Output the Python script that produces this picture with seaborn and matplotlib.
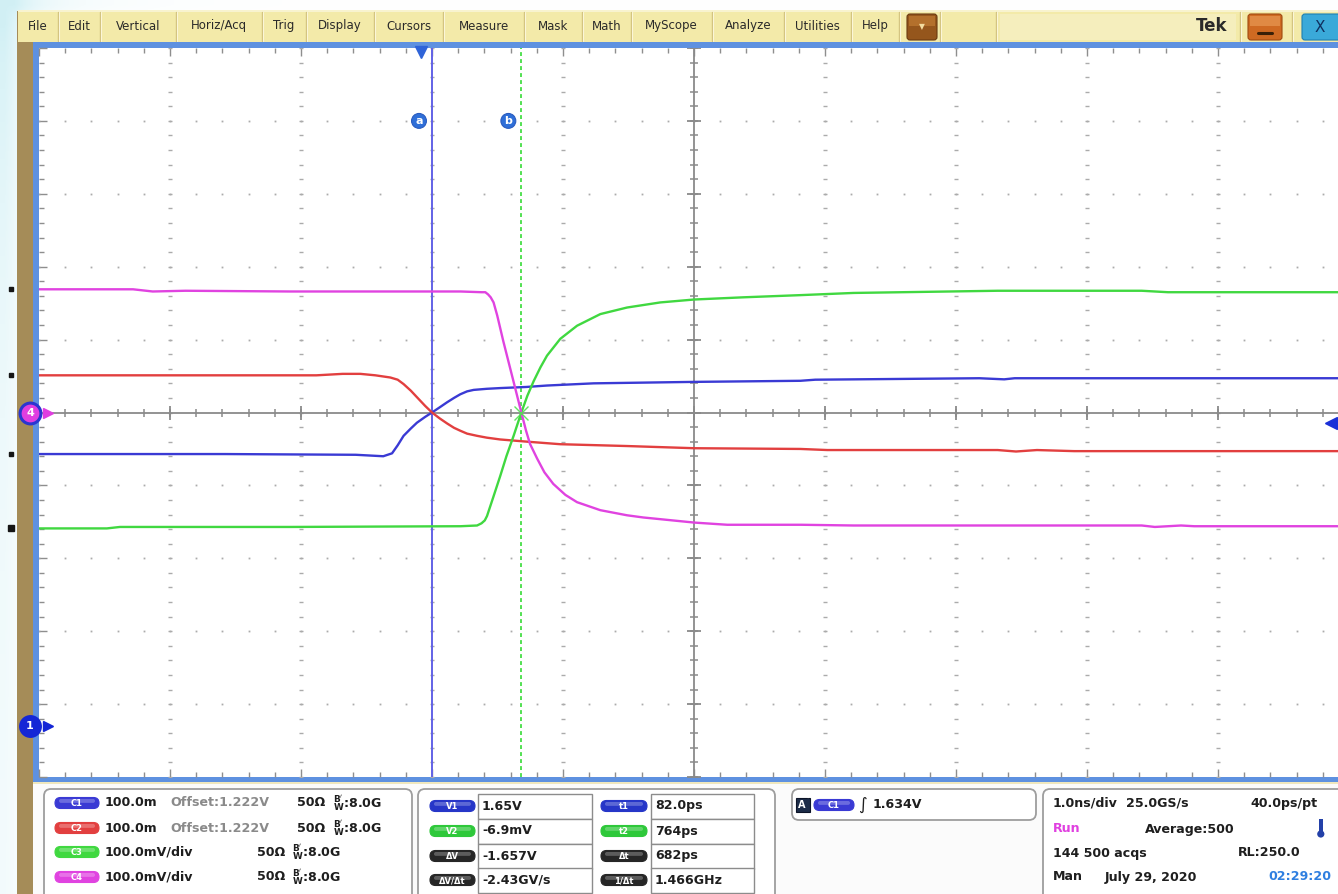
import numpy as np
import pandas as pd
import matplotlib
matplotlib.use("Agg")
import matplotlib.pyplot as plt
from matplotlib.patches import FancyBboxPatch, Rectangle, Circle
from matplotlib.ticker import FixedLocator
import seaborn as sns

# ---------------- waveform data (time in ps, screen level in mV, 100 mV/div) -------------
c1_t = [-2918, -1500, -500, -290, -223, -180, -135, -80, -33, 30, 82, 140, 197, 250, 298,
        350, 400, 500, 603, 800, 960, 1316, 1700, 2084, 2894, 3008, 4260, 4450, 4530, 7082]
c1_mv = [-57, -57, -58, -60, -56, -45, -32, -22, -14, -6, 0, 7, 14, 20, 25,
         29, 31, 32.5, 33.5, 35, 37, 40, 41, 42, 43.5, 45, 47, 45.5, 47, 47]

c2_t = [-2918, -2000, -800, -600, -465, -350, -236, -180, -135, -80, -33, 30, 82, 140, 197,
        250, 298, 350, 426, 500, 603, 807, 1061, 1571, 2084, 2894, 3100, 4400, 4540, 4700,
        4985, 7082]
c2_mv = [51, 51, 51, 53, 53, 51, 48, 45, 39, 30, 21, 9, 0, -8, -15,
         -21, -25, -29, -32, -34.5, -37, -40, -43.5, -46, -49, -50, -51.5, -51.5, -53.5, -51.5,
         -53, -53]

c3_t = [-2918, -2400, -2300, -1000, 300, 426, 460, 485, 502, 550, 603, 650, 705, 764, 810,
        858, 910, 960, 1061, 1189, 1367, 1571, 1825, 2084, 2458, 2894, 3300, 4400, 5500,
        5700, 7082]
c3_mv = [-159, -159, -157, -157, -156, -155, -152, -148, -142, -116, -87, -60, -32, 0, 23,
         43, 62, 78, 101, 119, 135, 144, 151, 155, 158, 161, 164, 167, 167,
         165, 165]

c4_t = [-2918, -2200, -2150, -2050, -1800, -1000, 300, 460, 489, 510, 530, 552, 580, 626,
        705, 764, 800, 830, 884, 940, 1008, 1100, 1189, 1367, 1571, 1695, 2084, 2336, 2900,
        3300, 5500, 5600, 5800, 5900, 7082]
c4_mv = [169, 169, 168, 166, 167, 166, 166, 165, 165, 162, 158, 151, 133, 98,
         42, 0, -25, -43, -63, -82, -98, -113, -123, -134, -141, -144, -151, -154, -154,
         -155, -155, -157, -155, -156, -156]

T1, T2 = 82, 764            # cursor a / cursor b (ps)
PS_PER_DIV = 1000           # 1.0 ns/div
MV_PER_DIV = 100            # 100 mV/div
TRIG_T = 0                  # trigger position
C4_REF = 0                  # channel 4 reference marker (mV)
C1_REF = -430               # channel 1 reference marker (mV)
TRIG_LEVEL = -15            # trigger level arrow (mV)

channel_colors = {"C1": "#3a3ad4", "C2": "#e23f3f", "C3": "#40d840", "C4": "#e043e0"}

menu_items = ["File", "Edit", "Vertical", "Horiz/Acq", "Trig", "Display", "Cursors",
              "Measure", "Mask", "Math", "MyScope", "Analyze", "Utilities", "Help"]
menu_sep = [18, 58, 100, 176, 262, 306, 374, 443, 524, 582, 631, 712, 784, 851, 899]

ch_names = ["C1", "C2", "C3", "C4"]
ch_scale = ["100.0m", "100.0m", "100.0mV/div", "100.0mV/div"]
ch_offset = ["Offset:1.222V", "Offset:1.222V", "", ""]
ch_term = "50\u03a9"
ch_bw = "8.0G"

cur_v_names = ["V1", "V2", "\u0394V", "\u0394V/\u0394t"]
cur_v_vals = ["1.65V", "-6.9mV", "-1.657V", "-2.43GV/s"]
cur_t_names = ["t1", "t2", "\u0394t", "1/\u0394t"]
cur_t_vals = ["82.0ps", "764ps", "682ps", "1.466GHz"]
cur_colors = ["#2636c8", "#2ec83a", "#262626", "#262626"]

trig_source = "C1"
trig_level_txt = "1.634V"

horiz_rows = [["1.0ns/div", "25.0GS/s", "40.0ps/pt"],
              ["Run", "Average:500", ""],
              ["144 500 acqs", "", "RL:250.0"],
              ["Man", "July 29, 2020", "02:29:20"]]

# ---------------------------------------------------------------------------------
W, H = 1338, 894
sns.set_theme(style="white")
plt.rcParams["font.family"] = ["DejaVu Sans"]
plt.rcParams["mathtext.fontset"] = "dejavusans"

fig = plt.figure(figsize=(W / 100, H / 100), dpi=100, facecolor="white")

# background layer in pixel coordinates
bg = fig.add_axes([0, 0, 1, 1], zorder=0)
bg.set_xlim(0, W)
bg.set_ylim(H, 0)
bg.axis("off")

# pale cyan wash at the top-left of the window
gy, gx = np.mgrid[0:90, 0:134]
wash = np.exp(-gx / 2.5) * (0.25 + 0.75 * np.exp(-gy / 25.0)) + 0.35 * np.exp(-gy / 1.2) * np.exp(-gx / 10.0)
wash = np.clip(wash, 0, 1)
img = np.ones((90, 134, 3))
cyan = np.array([0.82, 0.94, 0.96])
img = img * (1 - wash[..., None]) + cyan * wash[..., None]
bg.imshow(img, extent=(0, W, H, 0), aspect="auto", interpolation="bilinear", zorder=0)

# khaki side strip and bottom panel
bg.add_patch(Rectangle((17, 11), 18, H - 11, fc="#a58c58", ec="none", zorder=1))
bg.add_patch(Rectangle((33, 782), W - 33, H - 782, fc="#fbfbfb", ec="none", zorder=1))

# menu bar
bg.add_patch(Rectangle((18, 10), W - 18, 32, fc="#f3eaa9", ec="none", zorder=2))
bg.add_patch(Rectangle((18, 10), W - 18, 2, fc="#f8f3cf", ec="none", zorder=2))
for sx in menu_sep[1:] + [940, 996, 1240, 1292]:
    bg.plot([sx, sx], [12, 41], color="#d2c27c", lw=1.0, zorder=3)
    bg.plot([sx + 1, sx + 1], [12, 41], color="#fbf6d8", lw=0.8, zorder=3)
for i, lbl in enumerate(menu_items):
    xm = 0.5 * (menu_sep[i] + menu_sep[i + 1])
    bg.text(xm, 26, lbl, ha="center", va="center", fontsize=8.5, color="#2a2a2a", zorder=4)
bg.add_patch(FancyBboxPatch((907, 14), 30, 26, boxstyle="round,pad=0,rounding_size=3",
                            fc="#95561c", ec="#6a3a10", lw=0.8, zorder=4))
bg.add_patch(Rectangle((909, 16), 26, 10, fc="#b3702c", ec="none", zorder=4))
bg.text(922, 27, "\u25bc", ha="center", va="center", fontsize=5.5, color="#f3dca0", zorder=5)
bg.add_patch(Rectangle((1000, 14), 236, 26, fc="#f5eebd", ec="none", zorder=2.5))
bg.text(1227, 26, "Tek", ha="right", va="center", fontsize=12, fontweight="bold",
        color="#2a2a2a", zorder=4)
bg.add_patch(FancyBboxPatch((1248, 14), 34, 26, boxstyle="round,pad=0,rounding_size=3",
                            fc="#cf6a22", ec="#a04a10", lw=0.8, zorder=4))
bg.add_patch(Rectangle((1250, 16), 30, 10, fc="#e08a44", ec="none", zorder=4))
bg.plot([1258, 1272], [33, 33], color="#3a2008", lw=2.2, zorder=5)
bg.add_patch(FancyBboxPatch((1302, 14), 40, 26, boxstyle="round,pad=0,rounding_size=3",
                            fc="#3aa9d9", ec="#1f7fb0", lw=0.8, zorder=4))
bg.text(1320, 27, "X", ha="center", va="center", fontsize=11, color="#103060", zorder=5)

# blue graticule frame
frame_c = "#5e91e0"
bg.add_patch(Rectangle((33, 42), 6, 740, fc=frame_c, ec="none", zorder=3))
bg.add_patch(Rectangle((33, 42), W - 33, 6, fc=frame_c, ec="none", zorder=3))
bg.add_patch(Rectangle((33, 777), W - 33, 5, fc=frame_c, ec="none", zorder=3))
bg.add_patch(Rectangle((33, 782), W - 33, 2, fc="#efe7bd", ec="none", zorder=3))


def pill(x0, yc, w, h, color, text, fs=6.0):
    bg.add_patch(FancyBboxPatch((x0, yc - h / 2), w, h,
                                boxstyle="round,pad=0,rounding_size=%g" % (h / 2),
                                fc=color, ec=color, lw=0.8, zorder=5))
    bg.add_patch(FancyBboxPatch((x0 + 4, yc - h / 2 + 1.5), w - 8, h * 0.35,
                                boxstyle="round,pad=0,rounding_size=%g" % (h * 0.17),
                                fc="white", ec="none", alpha=0.25, zorder=5.5))
    bg.text(x0 + w / 2, yc + 0.5, text, ha="center", va="center", fontsize=fs,
            color="white", fontweight="bold", zorder=6)


def panel(x0, y0, x1, y1):
    bg.add_patch(FancyBboxPatch((x0, y0), x1 - x0, y1 - y0, boxstyle="round,pad=0,rounding_size=7",
                                fc="white", ec="#9d9d9d", lw=1.3, zorder=4))


TXT = dict(fontsize=9.1, fontweight="bold", color="#1e1e1e", va="center", zorder=6)
BW = r"$\mathbf{{}^{B'}_{W}}$" + ":" + ch_bw

# channel panel
panel(44, 789, 412, 905)
rows1 = [803, 828, 852, 877]
for i, y in enumerate(rows1):
    pill(55, y, 44, 11, channel_colors[ch_names[i]], ch_names[i])
    bg.text(105, y, ch_scale[i], **TXT)
    if ch_offset[i]:
        bg.text(170, y, ch_offset[i], **{**TXT, "color": "#8a8a8a"})
        bg.text(297, y, ch_term, **TXT)
        bg.text(333, y, BW, **TXT)
    else:
        bg.text(257, y, ch_term, **TXT)
        bg.text(292, y, BW, **TXT)

# cursor readout panel
panel(418, 789, 775, 905)
rows2 = [806, 831, 856, 880]
for i, y in enumerate(rows2):
    pill(430, y, 45, 11, cur_colors[i], cur_v_names[i])
    bg.add_patch(Rectangle((478, y - 12.5), 114, 25, fc="white", ec="#8c8c8c", lw=1.0, zorder=5))
    bg.text(482, y, cur_v_vals[i], **TXT)
    pill(601, y, 46, 11, cur_colors[i], cur_t_names[i])
    bg.add_patch(Rectangle((651, y - 12.5), 103, 25, fc="white", ec="#8c8c8c", lw=1.0, zorder=5))
    bg.text(655, y, cur_t_vals[i], **TXT)

# trigger panel
panel(792, 789, 1036, 820)
bg.add_patch(Rectangle((796, 798), 14, 14, fc="#1c2c48", ec="#0c1428", lw=0.8, zorder=5))
bg.text(802, 805.5, "A", ha="center", va="center", fontsize=7, color="white",
        fontweight="bold", zorder=6)
bg.text(807.5, 800.5, "'", ha="center", va="center", fontsize=6, color="white", zorder=6)
pill(814, 805, 40, 11, channel_colors["C1"], trig_source)
bg.text(858, 805, "\u222b", ha="left", va="center", fontsize=12, color="#1e1e1e", zorder=6)
bg.text(873, 804, trig_level_txt, **TXT)

# horizontal / acquisition panel
panel(1043, 789, 1360, 905)
rows4 = [803, 829, 853, 877]
mid_x = [1126, 1145, None, 1105]
right_x = [1250, None, 1238, 1268]
for i, y in enumerate(rows4):
    a, b, c = horiz_rows[i]
    bg.text(1053, y, a, **{**TXT, "color": "#e040e0" if a == "Run" else "#1e1e1e"})
    if b:
        bg.text(mid_x[i], y, b, **TXT)
    if c:
        bg.text(right_x[i], y, c, **{**TXT, "color": "#2f7fe0" if i == 3 else "#1e1e1e"})
bg.add_patch(Rectangle((1319, 819), 3.5, 14, fc="#2340a8", ec="none", zorder=6))
bg.add_patch(Circle((1320.8, 834), 3.6, fc="#2340a8", ec="none", zorder=6))

# ---------------------------------------------------------------- graticule axes
ax = fig.add_axes([39 / W, 1 - 777 / H, 1310 / W, 729 / H], zorder=1)
x0 = T1 - 3 * PS_PER_DIV
ax.set_xlim(x0, x0 + 10 * PS_PER_DIV)
ax.set_ylim(-5 * MV_PER_DIV, 5 * MV_PER_DIV)
ax.set_facecolor("white")
for s in ax.spines.values():
    s.set_visible(False)

xmaj = [x0 + k * PS_PER_DIV for k in range(11)]
xmin = [x0 + k * PS_PER_DIV / 5 for k in range(51)]
ymaj = [-500 + k * MV_PER_DIV for k in range(11)]
ymin = [-500 + k * MV_PER_DIV / 5 for k in range(51)]
ax.xaxis.set_major_locator(FixedLocator(xmaj))
ax.xaxis.set_minor_locator(FixedLocator(xmin))
ax.yaxis.set_major_locator(FixedLocator(ymaj))
ax.yaxis.set_minor_locator(FixedLocator(ymin))
ax.tick_params(which="both", direction="in", top=True, right=True, bottom=True, left=True,
               labelbottom=False, labelleft=False, color="#8e8e8e", width=1.0)
ax.tick_params(which="major", length=6)
ax.tick_params(which="minor", length=3.5)

xc = x0 + 5 * PS_PER_DIV
dot = "#ababab"
for xm in xmaj[1:-1]:
    if xm == xc:
        continue
    ax.plot([xm] * len(ymin), ymin, ls="none", marker="_", ms=3.5, mew=1.0, color=dot, zorder=1)
for ym in ymaj[1:-1]:
    if ym == 0:
        continue
    ax.plot(xmin, [ym] * len(xmin), ls="none", marker="s", ms=1.3, mew=0, color=dot, zorder=1)

# centre cross with division ticks
ax.axhline(0, color="#8a8a8a", lw=1.3, zorder=1.5)
ax.axvline(xc, color="#8a8a8a", lw=1.3, zorder=1.5)
ax.plot(xmin, [0] * len(xmin), ls="none", marker="|", ms=6, mew=1.1, color="#8a8a8a", zorder=1.5)
ax.plot(xmaj, [0] * len(xmaj), ls="none", marker="|", ms=10, mew=1.3, color="#8a8a8a", zorder=1.5)
ax.plot([xc] * len(ymin), ymin, ls="none", marker="_", ms=6, mew=1.1, color="#8a8a8a", zorder=1.5)
ax.plot([xc] * len(ymaj), ymaj, ls="none", marker="_", ms=10, mew=1.3, color="#8a8a8a", zorder=1.5)

# cursors
ax.axvline(T1, color="#6262e6", lw=1.4, zorder=2)
ax.axvline(T2, color="#52e052", lw=1.4, ls=(0, (2.0, 1.6)), zorder=2)

# waveforms
frames = []
for name, t, v in [("C1", c1_t, c1_mv), ("C2", c2_t, c2_mv), ("C3", c3_t, c3_mv), ("C4", c4_t, c4_mv)]:
    frames.append(pd.DataFrame({"time_ps": t, "level_mV": v, "channel": name}))
df = pd.concat(frames, ignore_index=True)
sns.lineplot(data=df, x="time_ps", y="level_mV", hue="channel", palette=channel_colors,
             estimator=None, sort=False, lw=1.7, legend=False, ax=ax, zorder=3)
for ln in ax.get_lines()[-4:]:
    ln.set_solid_joinstyle("round")
ax.set_xlabel("")
ax.set_ylabel("")

# waveform cursor crosshair at b
ax.plot([T2], [0], marker="x", ms=10, mew=1.0, color="#52e052", ls="none", zorder=4, alpha=0.9)

# cursor labels
for tc, lab in [(T1, "a"), (T2, "b")]:
    ax.annotate(lab, xy=(tc, 400), xytext=(-13, 0), textcoords="offset pixels",
                ha="center", va="center", fontsize=8, fontweight="bold", color="white",
                bbox=dict(boxstyle="circle,pad=0.22", fc="#2f6fd8", ec="#2a5cc0", lw=0.8),
                zorder=6)

ytr = ax.get_yaxis_transform()
xtr = ax.get_xaxis_transform()


def axx(px):
    return (px - 39) / 1310


# trigger position marker
ax.plot([TRIG_T], [1 - 4 / 729], transform=xtr, marker="v", ms=9, color="#2f64d8",
        clip_on=False, zorder=7)

# channel reference markers
ax.plot([axx(30)], [C4_REF], transform=ytr, marker="o", ms=15, mfc="#e03ee0", mec="#2a36d0",
        mew=2.2, clip_on=False, zorder=8)
ax.text(axx(30), C4_REF, "4", transform=ytr, ha="center", va="center", fontsize=8,
        color="white", fontweight="bold", zorder=9, clip_on=False)
ax.plot([axx(48)], [C4_REF], transform=ytr, marker=">", ms=7, color="#e03ee0",
        clip_on=False, zorder=8)
ax.plot([axx(30)], [C1_REF], transform=ytr, marker="o", ms=15, mfc="#1426d6", mec="#1426d6",
        mew=1.5, clip_on=False, zorder=8)
ax.text(axx(30), C1_REF, "1", transform=ytr, ha="center", va="center", fontsize=8,
        color="white", fontweight="bold", zorder=9, clip_on=False)
ax.plot([axx(48)], [C1_REF], transform=ytr, marker=">", ms=7, color="#1426d6",
        clip_on=False, zorder=8)

# trigger level arrow on the right
ax.plot([axx(1331)], [TRIG_LEVEL], transform=ytr, marker="<", ms=8, color="#1a30d8",
        clip_on=False, zorder=8)

# level marks outside the graticule on the left
for v in [c4_mv[0], c2_mv[0], c1_mv[0]]:
    ax.plot([axx(11)], [v], transform=ytr, marker="s", ms=2.6, color="#151515",
            clip_on=False, zorder=8)
ax.plot([axx(11)], [c3_mv[0]], transform=ytr, marker="s", ms=3.8, color="#151515",
        clip_on=False, zorder=8)

fig.savefig("out.png", dpi=100, facecolor=fig.get_facecolor())
